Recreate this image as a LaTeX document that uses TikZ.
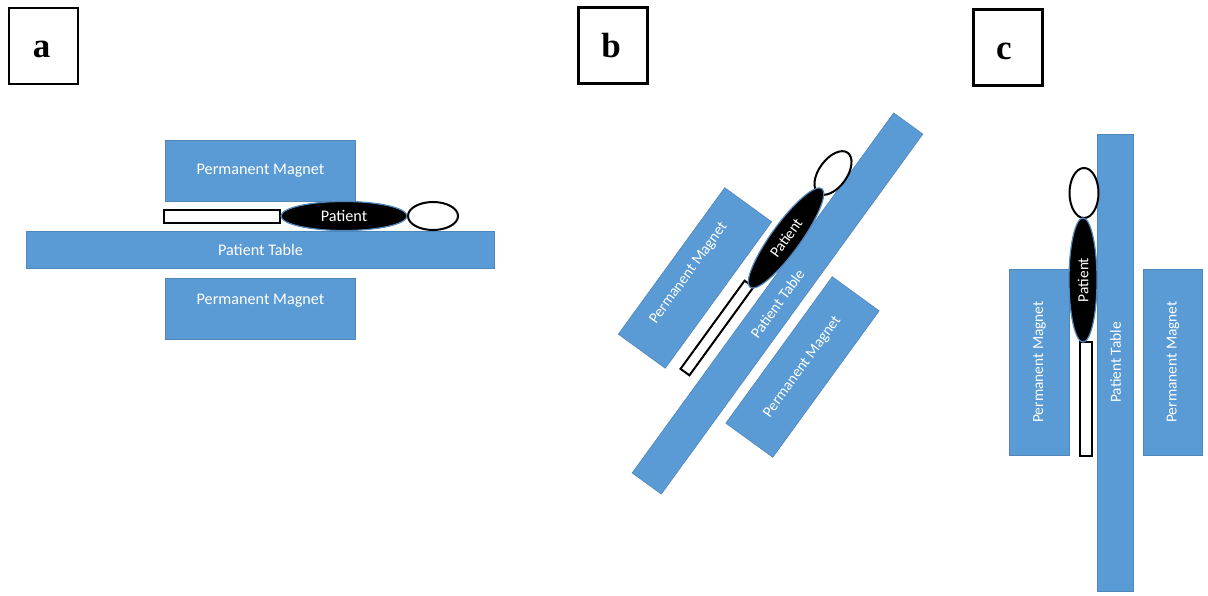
\documentclass[tikz,border=0pt]{standalone}
\usepackage{fontspec}
\setmainfont{Carlito}
\newfontfamily\panelfont{Liberation Serif}
\usepackage{xcolor}
\usetikzlibrary{shapes.geometric}
\definecolor{slabblue}{HTML}{5B9BD5}
\definecolor{slabedge}{HTML}{4F86BC}
\tikzset{
    slab/.style={draw=slabedge,line width=0.6pt,fill=slabblue,text=white,font=\fontsize{16.2}{18}\selectfont,inner sep=0pt},
    magnet/.style={slab,minimum width=190pt,minimum height=61pt},
    patienttable/.style={slab,minimum width=468pt,minimum height=37pt},
    torso/.style={ellipse,draw=slabedge,line width=1.2pt,fill=black,text=white,font=\fontsize{16.2}{18}\selectfont,inner sep=0pt,minimum width=126pt,minimum height=29pt},
    head/.style={ellipse,draw=black,line width=2pt,fill=white,inner sep=0pt,minimum width=50pt,minimum height=28pt},
    legs/.style={rectangle,draw=black,line width=2pt,fill=white,inner sep=0pt,minimum width=116pt,minimum height=13pt},
    turned/.style={font=\fontsize{15.4}{18}\selectfont},
    panelbox/.style={rectangle,draw=black,line width=2.2pt,fill=white,inner sep=0pt,minimum width=69pt,minimum height=76pt,text height=24pt,text depth=0pt,font=\panelfont\bfseries\fontsize{35}{38}\selectfont}
}
\begin{document}
\begin{tikzpicture}[x=1pt,y=-1pt]
    \useasboundingbox (0,0) rectangle (1208,596);

    % --- Panel a: horizontal ---
    \node[panelbox] (boxa) at (43.5,46) {\kern-4pt a};
    \node[magnet] (magnetat) at (260.5,171) {Permanent Magnet};
    \node[magnet,text depth=20pt] (magnetab) at (260.5,309) {Permanent Magnet};
    \node[patienttable] (tablea) at (260.5,250) {Patient Table};
    \node[legs] (legsa) at (222,217) {};
    \node[torso] (torsoa) at (344,216) {Patient};
    \node[head] (heada) at (433,216) {};

    % --- Panel b: tilted ---
    \node[panelbox] (boxb) at (613,45.5) {\kern-4pt b};
    \node[magnet,turned,rotate=54,minimum width=181pt,minimum height=58pt,text depth=18pt] (magnetbt) at (695,278) {Permanent Magnet};
    \node[magnet,turned,rotate=54,minimum width=181pt,minimum height=58pt] (magnetbb) at (802.5,367) {Permanent Magnet};
    \node[patienttable,turned,rotate=54,minimum width=445pt,minimum height=36pt] (tableb) at (777.5,303.5) {Patient Table};
    \node[legs,rotate=54,minimum width=109pt,minimum height=11pt] (legsb) at (717,328) {};
    \node[head,rotate=54] (headb) at (833,173) {};
    \node[torso,turned,rotate=54,minimum width=122pt] (torsob) at (786,238) {Patient};

    % --- Panel c: upright ---
    \node[panelbox] (boxc) at (1008,47.5) {\kern-8pt c};
    \node[magnet,turned,rotate=90,minimum width=186pt,minimum height=60pt] (magnetcl) at (1039.5,362) {Permanent Magnet};
    \node[magnet,turned,rotate=90,minimum width=186pt,minimum height=59pt] (magnetcr) at (1173,362) {Permanent Magnet};
    \node[patienttable,turned,rotate=90,minimum width=457pt,minimum height=36pt] (tablec) at (1115.5,362.5) {Patient Table};
    \node[legs,rotate=90,minimum width=114pt,minimum height=12pt] (legsc) at (1085.5,399) {};
    \node[head,rotate=90,minimum height=29pt] (headc) at (1084,193) {};
    \node[torso,turned,rotate=90,minimum width=124pt,minimum height=28pt] (torsoc) at (1083,280) {Patient};
\end{tikzpicture}
\end{document}
